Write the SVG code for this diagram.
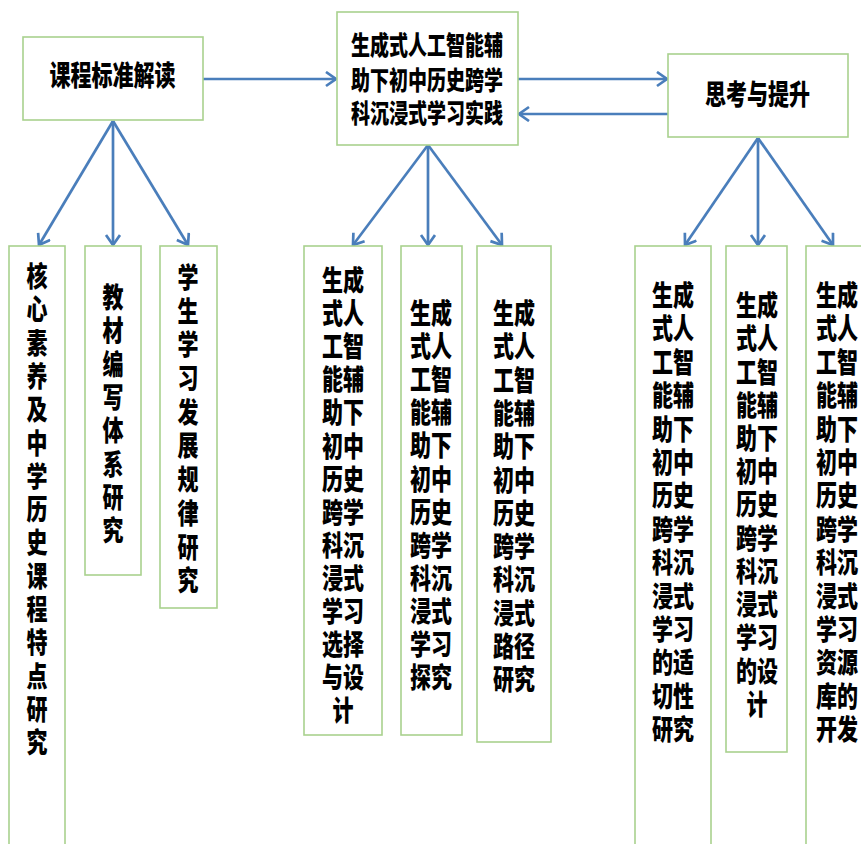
<svg xmlns="http://www.w3.org/2000/svg" width="861" height="844" viewBox="0 0 861 844">
<style>
.box{fill:#fff;stroke:#a9d18e;stroke-width:1.6}
.t{font-family:"Noto Sans CJK SC","Noto Sans",sans-serif;font-weight:900;fill:#000;text-anchor:middle}
.c{fill:none;stroke:#4a7ebb;stroke-width:2.7}
</style>
<defs>
<marker id="ah" markerUnits="userSpaceOnUse" markerWidth="14" markerHeight="18" refX="12" refY="8" orient="auto">
<path d="M2,1 L12,8 L2,15" fill="none" stroke="#4a7ebb" stroke-width="2.7"/>
</marker>
</defs>
<rect width="861" height="844" fill="#fff"/>
<g id="connectors">
<line class="c" x1="203" y1="79" x2="336" y2="79" marker-end="url(#ah)"/>
<line class="c" x1="518" y1="79" x2="667" y2="79" marker-end="url(#ah)"/>
<line class="c" x1="668" y1="114" x2="519" y2="114" marker-end="url(#ah)"/>
<line class="c" x1="113" y1="121" x2="39" y2="245" marker-end="url(#ah)"/>
<line class="c" x1="113" y1="121" x2="113" y2="245" marker-end="url(#ah)"/>
<line class="c" x1="113" y1="121" x2="188" y2="245" marker-end="url(#ah)"/>
<line class="c" x1="428" y1="145" x2="353" y2="245" marker-end="url(#ah)"/>
<line class="c" x1="428" y1="145" x2="428" y2="245" marker-end="url(#ah)"/>
<line class="c" x1="428" y1="145" x2="502" y2="245" marker-end="url(#ah)"/>
<line class="c" x1="758" y1="138" x2="685" y2="245" marker-end="url(#ah)"/>
<line class="c" x1="758" y1="138" x2="758" y2="245" marker-end="url(#ah)"/>
<line class="c" x1="758" y1="138" x2="833" y2="245" marker-end="url(#ah)"/>
</g>
<g id="n-kcbz">
<rect class="box" x="23" y="37" width="180" height="83"/>
<text class="t" transform="scale(1,1.38)" x="112.5" y="62.3" font-size="21">课程标准解读</text>
</g>
<g id="n-center">
<rect class="box" x="337" y="12" width="181" height="133"/>
<text class="t" transform="scale(1,1.38)" font-size="19"><tspan x="427" y="39.8">生成式人工智能辅</tspan><tspan x="427" y="65.2">助下初中历史跨学</tspan><tspan x="427" y="89.4">科沉浸式学习实践</tspan></text>
</g>
<g id="n-skts">
<rect class="box" x="668" y="54" width="180" height="83"/>
<text class="t" transform="scale(1,1.38)" x="757.5" y="76.1" font-size="21">思考与提升</text>
</g>
<g id="n-b1">
<rect class="box" x="9" y="246" width="56" height="620"/>
<text class="t" transform="scale(1,1.38)" font-size="21"><tspan x="37" y="208">核</tspan><tspan x="37" dy="24.13">心</tspan><tspan x="37" dy="24.13">素</tspan><tspan x="37" dy="24.13">养</tspan><tspan x="37" dy="24.13">及</tspan><tspan x="37" dy="24.13">中</tspan><tspan x="37" dy="24.13">学</tspan><tspan x="37" dy="24.13">历</tspan><tspan x="37" dy="24.13">史</tspan><tspan x="37" dy="24.13">课</tspan><tspan x="37" dy="24.13">程</tspan><tspan x="37" dy="24.13">特</tspan><tspan x="37" dy="24.13">点</tspan><tspan x="37" dy="24.13">研</tspan><tspan x="37" dy="24.13">究</tspan></text>
</g>
<g id="n-b2">
<rect class="box" x="85" y="246" width="56" height="329"/>
<text class="t" transform="scale(1,1.38)" font-size="21"><tspan x="113" y="223.2">教</tspan><tspan x="113" dy="24.13">材</tspan><tspan x="113" dy="24.13">编</tspan><tspan x="113" dy="24.13">写</tspan><tspan x="113" dy="24.13">体</tspan><tspan x="113" dy="24.13">系</tspan><tspan x="113" dy="24.13">研</tspan><tspan x="113" dy="24.13">究</tspan></text>
</g>
<g id="n-b3">
<rect class="box" x="160" y="246" width="57" height="362"/>
<text class="t" transform="scale(1,1.38)" font-size="21"><tspan x="188" y="208.7">学</tspan><tspan x="188" dy="24.42">生</tspan><tspan x="188" dy="24.42">学</tspan><tspan x="188" dy="24.42">习</tspan><tspan x="188" dy="24.42">发</tspan><tspan x="188" dy="24.42">展</tspan><tspan x="188" dy="24.42">规</tspan><tspan x="188" dy="24.42">律</tspan><tspan x="188" dy="24.42">研</tspan><tspan x="188" dy="24.42">究</tspan></text>
</g>
<g id="n-b4">
<rect class="box" x="304" y="246" width="78" height="489"/>
<text class="t" transform="scale(1,1.38)" font-size="21"><tspan x="343" y="210.9">生成</tspan><tspan x="343" dy="23.99">式人</tspan><tspan x="343" dy="23.99">工智</tspan><tspan x="343" dy="23.99">能辅</tspan><tspan x="343" dy="23.99">助下</tspan><tspan x="343" dy="23.99">初中</tspan><tspan x="343" dy="23.99">历史</tspan><tspan x="343" dy="23.99">跨学</tspan><tspan x="343" dy="23.99">科沉</tspan><tspan x="343" dy="23.99">浸式</tspan><tspan x="343" dy="23.99">学习</tspan><tspan x="343" dy="23.99">选择</tspan><tspan x="343" dy="23.99">与设</tspan><tspan x="343" dy="23.99">计</tspan></text>
</g>
<g id="n-b5">
<rect class="box" x="401" y="246" width="61" height="489"/>
<text class="t" transform="scale(1,1.38)" font-size="21"><tspan x="431" y="234.8">生成</tspan><tspan x="431" dy="23.99">式人</tspan><tspan x="431" dy="23.99">工智</tspan><tspan x="431" dy="23.99">能辅</tspan><tspan x="431" dy="23.99">助下</tspan><tspan x="431" dy="23.99">初中</tspan><tspan x="431" dy="23.99">历史</tspan><tspan x="431" dy="23.99">跨学</tspan><tspan x="431" dy="23.99">科沉</tspan><tspan x="431" dy="23.99">浸式</tspan><tspan x="431" dy="23.99">学习</tspan><tspan x="431" dy="23.99">探究</tspan></text>
</g>
<g id="n-b6">
<rect class="box" x="477" y="246" width="74" height="496"/>
<text class="t" transform="scale(1,1.38)" font-size="21"><tspan x="514" y="234.8">生成</tspan><tspan x="514" dy="24.13">式人</tspan><tspan x="514" dy="24.13">工智</tspan><tspan x="514" dy="24.13">能辅</tspan><tspan x="514" dy="24.13">助下</tspan><tspan x="514" dy="24.13">初中</tspan><tspan x="514" dy="24.13">历史</tspan><tspan x="514" dy="24.13">跨学</tspan><tspan x="514" dy="24.13">科沉</tspan><tspan x="514" dy="24.13">浸式</tspan><tspan x="514" dy="24.13">路径</tspan><tspan x="514" dy="24.13">研究</tspan></text>
</g>
<g id="n-b7">
<rect class="box" x="635" y="246" width="76" height="620"/>
<text class="t" transform="scale(1,1.38)" font-size="21"><tspan x="673" y="221.8">生成</tspan><tspan x="673" dy="24.2">式人</tspan><tspan x="673" dy="24.2">工智</tspan><tspan x="673" dy="24.2">能辅</tspan><tspan x="673" dy="24.2">助下</tspan><tspan x="673" dy="24.2">初中</tspan><tspan x="673" dy="24.2">历史</tspan><tspan x="673" dy="24.2">跨学</tspan><tspan x="673" dy="24.2">科沉</tspan><tspan x="673" dy="24.2">浸式</tspan><tspan x="673" dy="24.2">学习</tspan><tspan x="673" dy="24.2">的适</tspan><tspan x="673" dy="24.2">切性</tspan><tspan x="673" dy="24.2">研究</tspan></text>
</g>
<g id="n-b8">
<rect class="box" x="726" y="246" width="61" height="506"/>
<text class="t" transform="scale(1,1.38)" font-size="21"><tspan x="757" y="229">生成</tspan><tspan x="757" dy="24.09">式人</tspan><tspan x="757" dy="24.09">工智</tspan><tspan x="757" dy="24.09">能辅</tspan><tspan x="757" dy="24.09">助下</tspan><tspan x="757" dy="24.09">初中</tspan><tspan x="757" dy="24.09">历史</tspan><tspan x="757" dy="24.09">跨学</tspan><tspan x="757" dy="24.09">科沉</tspan><tspan x="757" dy="24.09">浸式</tspan><tspan x="757" dy="24.09">学习</tspan><tspan x="757" dy="24.09">的设</tspan><tspan x="757" dy="24.09">计</tspan></text>
</g>
<g id="n-b9">
<rect class="box" x="806" y="246" width="70" height="620"/>
<text class="t" transform="scale(1,1.38)" font-size="21"><tspan x="837" y="221.8">生成</tspan><tspan x="837" dy="24.2">式人</tspan><tspan x="837" dy="24.2">工智</tspan><tspan x="837" dy="24.2">能辅</tspan><tspan x="837" dy="24.2">助下</tspan><tspan x="837" dy="24.2">初中</tspan><tspan x="837" dy="24.2">历史</tspan><tspan x="837" dy="24.2">跨学</tspan><tspan x="837" dy="24.2">科沉</tspan><tspan x="837" dy="24.2">浸式</tspan><tspan x="837" dy="24.2">学习</tspan><tspan x="837" dy="24.2">资源</tspan><tspan x="837" dy="24.2">库的</tspan><tspan x="837" dy="24.2">开发</tspan></text>
</g>
</svg>
